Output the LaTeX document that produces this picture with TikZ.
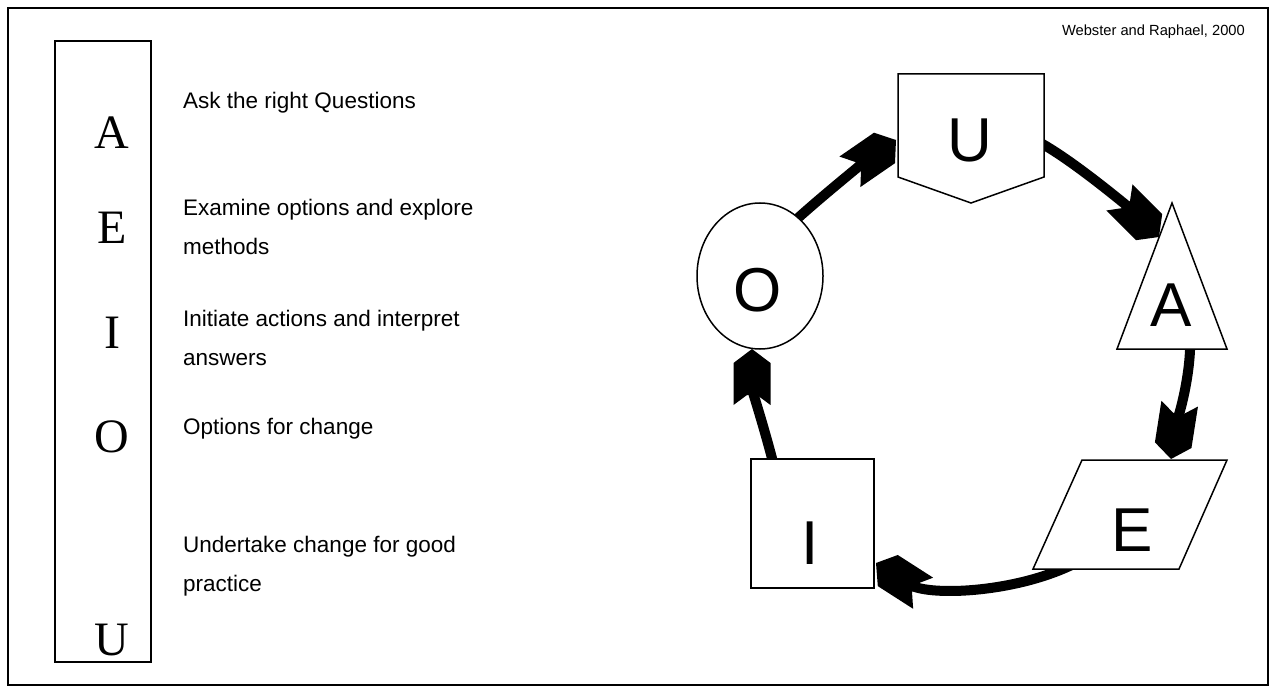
\documentclass[tikz,border=0pt]{standalone}
\usepackage{fontspec}
\setmainfont{Liberation Sans}
\newfontfamily\timesf{Liberation Serif}
\usetikzlibrary{arrows.meta}
\pgfdeclarearrow{
  name = Chev,
  parameters = {},
  setup code = {
    \pgfarrowssettipend{0pt}
    \pgfarrowssetbackend{-56pt}
    \pgfarrowssetlineend{-40pt}
    \pgfarrowsupperhullpoint{0pt}{0pt}
    \pgfarrowsupperhullpoint{-14pt}{18.5pt}
    \pgfarrowsupperhullpoint{-56pt}{18.5pt}
  },
  drawing code = {
    \pgfpathmoveto{\pgfqpoint{0pt}{0pt}}
    \pgfpathlineto{\pgfqpoint{-14pt}{18.5pt}}
    \pgfpathlineto{\pgfqpoint{-56pt}{18.5pt}}
    \pgfpathlineto{\pgfqpoint{-46pt}{5pt}}
    \pgfpathlineto{\pgfqpoint{-46pt}{-5pt}}
    \pgfpathlineto{\pgfqpoint{-56pt}{-18.5pt}}
    \pgfpathlineto{\pgfqpoint{-14pt}{-18.5pt}}
    \pgfpathclose
    \pgfusepathqfill
  }
}
\begin{document}
\begin{tikzpicture}[x=1pt,y=-1pt,
  shapeline/.style={draw=black, line width=1.5pt, fill=white},
  cycarrow/.style={line width=10pt, -Chev},
  bigletter/.style={inner sep=0pt, font=\fontsize{62}{62}\selectfont},
  sideletter/.style={inner sep=0pt, font=\timesf\fontsize{48}{48}\selectfont},
  itemtext/.style={inner sep=0pt, anchor=west, align=left, font=\fontsize{22.5}{39}\selectfont}
]
\useasboundingbox (0,0) rectangle (1271,687);
\draw[line width=2pt] (8,8) rectangle (1268,685);

% left column
\draw[line width=1.5pt] (55,41) rectangle (151,662);
\node[sideletter] (LA) at (112,133) {A};
\node[sideletter] (LE) at (112,228) {E};
\node[sideletter] (LI) at (112,333) {I};
\node[sideletter] (LO) at (112,437) {O};
\node[sideletter] (LU) at (112,640) {U};

\node[itemtext] (t1) at (183,103) {Ask the right Questions};
\node[itemtext] (t2) at (183,227) {Examine options and explore\\methods};
\node[itemtext] (t3) at (183,337.5) {Initiate actions and interpret\\answers};
\node[itemtext] (t4) at (183,429) {Options for change};
\node[itemtext] (t5) at (183,566.5) {Undertake change for good\\practice};

\node[inner sep=0pt, anchor=base east, font=\fontsize{14.7}{16}\selectfont] (src) at (1245,36) {Webster and Raphael, 2000};

% connector end points
\coordinate (oStart) at (785,230);
\coordinate (uEnd) at (896,140);
\coordinate (uStart) at (1035,140);
\coordinate (aEnd) at (1159,237);
\coordinate (aStart) at (1190,335);
\coordinate (eEnd) at (1171,459);
\coordinate (eStart) at (1085,558);
\coordinate (iEnd) at (876,563);
\coordinate (iStart) at (775,470);
\coordinate (oEnd) at (752,349);

% arrows
\draw[cycarrow] (oStart) .. controls (812,204) and (867,160) .. (uEnd);
\draw[cycarrow] (uStart) .. controls (1071,158) and (1134,212) .. (aEnd);
\draw[cycarrow] (aStart) .. controls (1192,375) and (1176.5,424) .. (eEnd);
\draw[cycarrow] (eStart) .. controls (1025,593) and (929,597) .. (iEnd);
\draw[cycarrow] (iStart) .. controls (765,430) and (752,390) .. (oEnd);

% shapes
\draw[shapeline] (898,74) -- (1044,74) -- (1044,177) -- (971,203) -- (898,177) -- cycle;
\node[bigletter] (U) at (970,140) {U};

\draw[shapeline] (1172,203) -- (1227,349) -- (1117,349) -- cycle;
\node[bigletter] (A) at (1171,305) {A};

\draw[shapeline] (1082,460) -- (1227,460) -- (1179,569) -- (1033,569) -- cycle;
\node[bigletter] (E) at (1132,530) {E};

\draw[shapeline] (751,459) rectangle (874,588);
\node[bigletter] (I) at (810,543) {I};

\draw[shapeline] (760,276) ellipse [x radius=63, y radius=73];
\node[bigletter] (O) at (758,290) {O};
\end{tikzpicture}
\end{document}
